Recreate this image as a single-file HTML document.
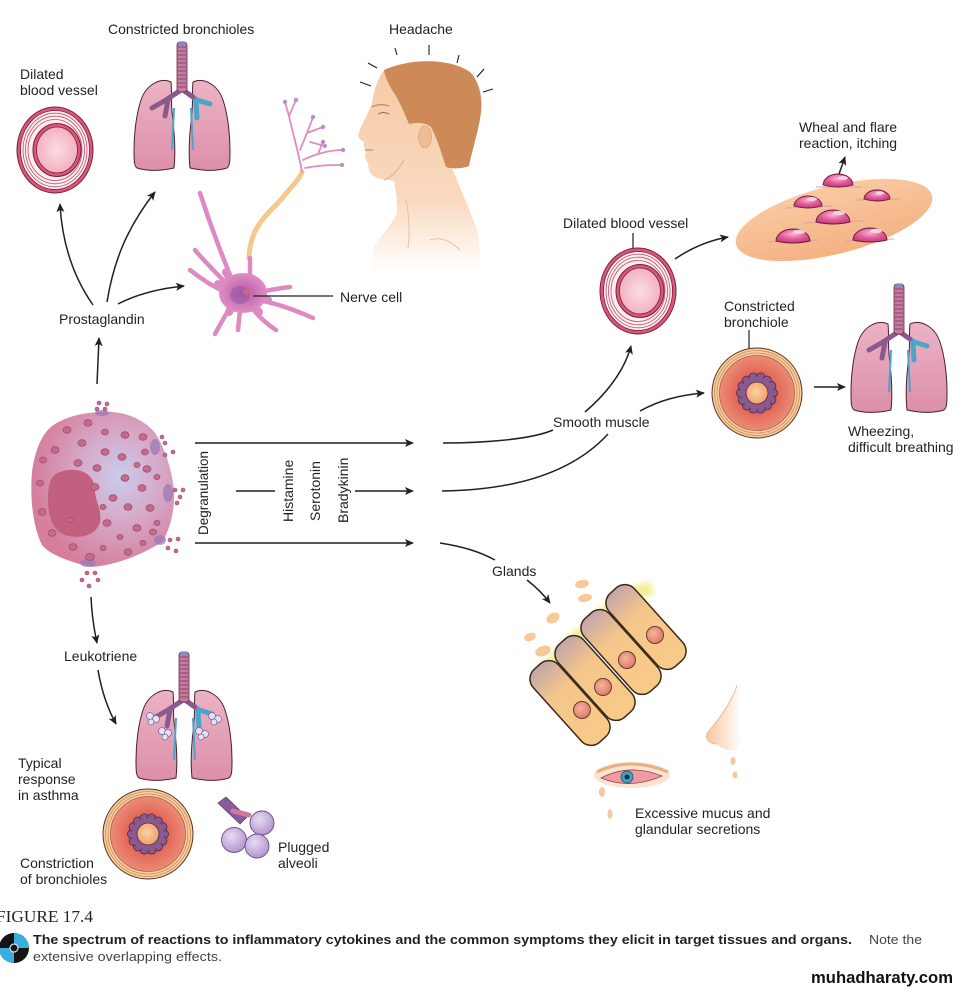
<!DOCTYPE html>
<html><head><meta charset="utf-8"><style>
html,body{margin:0;padding:0;background:#fff;}
svg{display:block;}
text{font-family:"Liberation Sans",Arial,sans-serif;fill:#231f20;font-size:14px;}
</style></head><body>
<svg width="960" height="992" viewBox="0 0 960 992" xmlns="http://www.w3.org/2000/svg" xmlns:xlink="http://www.w3.org/1999/xlink">
<defs>
<marker id="ah" viewBox="0 0 10 10" refX="9" refY="5" markerWidth="9" markerHeight="9" orient="auto" markerUnits="userSpaceOnUse"><path d="M0,0.5 L10,5 L0,9.5 L2.5,5 Z" fill="#231f20"/></marker>
<radialGradient id="lumen" cx="50%" cy="50%" r="50%"><stop offset="0" stop-color="#fbdde3"/><stop offset="1" stop-color="#f2b2c0"/></radialGradient>
<radialGradient id="redzone" cx="50%" cy="50%" r="50%"><stop offset="0.45" stop-color="#e2604e"/><stop offset="1" stop-color="#ea8c78"/></radialGradient>
<radialGradient id="lumenB" cx="45%" cy="45%" r="55%"><stop offset="0" stop-color="#fbd2a0"/><stop offset="1" stop-color="#f0a06e"/></radialGradient>
<linearGradient id="lungg" x1="0" y1="0" x2="0" y2="1"><stop offset="0" stop-color="#ecb3c5"/><stop offset="1" stop-color="#dc8fa8"/></linearGradient>
<radialGradient id="mast" cx="62%" cy="42%" r="60%"><stop offset="0" stop-color="#c9ccef"/><stop offset="0.45" stop-color="#d6abca"/><stop offset="1" stop-color="#d57f9d"/></radialGradient>
<radialGradient id="soma" cx="50%" cy="50%" r="50%"><stop offset="0" stop-color="#b35aa6"/><stop offset="1" stop-color="#e08dc4"/></radialGradient>
<linearGradient id="skin" x1="0" y1="0" x2="0" y2="1"><stop offset="0" stop-color="#f7c9a5"/><stop offset="0.65" stop-color="#f9d9bf"/><stop offset="1" stop-color="#ffffff"/></linearGradient>
<linearGradient id="patch" x1="0" y1="0" x2="0" y2="1"><stop offset="0" stop-color="#f9caa2"/><stop offset="1" stop-color="#f4b282"/></linearGradient>
<radialGradient id="wheal" cx="50%" cy="35%" r="60%"><stop offset="0" stop-color="#f6b5d3"/><stop offset="0.6" stop-color="#e35c9c"/><stop offset="1" stop-color="#c9417f"/></radialGradient>
<linearGradient id="cellg" x1="0" y1="0" x2="1" y2="0"><stop offset="0" stop-color="#c3a5aa"/><stop offset="0.35" stop-color="#f5c68b"/><stop offset="1" stop-color="#f8ca88"/></linearGradient>
<radialGradient id="nuc" cx="40%" cy="40%" r="60%"><stop offset="0" stop-color="#f6b39a"/><stop offset="1" stop-color="#dc7c72"/></radialGradient>
<radialGradient id="alv" cx="40%" cy="35%" r="65%"><stop offset="0" stop-color="#e6dcf2"/><stop offset="1" stop-color="#b597d0"/></radialGradient>
<linearGradient id="nose" x1="0" y1="0" x2="1" y2="0"><stop offset="0" stop-color="#f6c7a0"/><stop offset="1" stop-color="#ffffff"/></linearGradient>
<filter id="blur"><feGaussianBlur stdDeviation="3"/></filter>

<g id="vessel">
<ellipse rx="38" ry="43" fill="#d9577a" stroke="#7a2036" stroke-width="1"/>
<ellipse rx="34.5" ry="39.5" fill="#fbeef0" stroke="#7a2036" stroke-width="0.8"/>
<ellipse rx="32" ry="36.8" fill="none" stroke="#c2506e" stroke-width="0.8"/>
<ellipse rx="29.5" ry="33.8" fill="none" stroke="#c2506e" stroke-width="0.8"/>
<ellipse rx="27" ry="30.5" fill="none" stroke="#c2506e" stroke-width="0.8"/>
<ellipse cx="2" rx="24" ry="26.5" fill="#d9577a" stroke="#7a2036" stroke-width="1"/>
<ellipse cx="2" rx="20.5" ry="23" fill="url(#lumen)" stroke="#7a2036" stroke-width="0.8"/>
</g>

<g id="bronch">
<circle r="45" fill="#f7cf9f" stroke="#5a3020" stroke-width="1"/>
<circle r="42.5" fill="none" stroke="#c98a5a" stroke-width="0.8"/>
<circle r="40" fill="none" stroke="#c98a5a" stroke-width="0.8"/>
<circle r="37.5" fill="url(#redzone)" stroke="#b45a40" stroke-width="0.8"/>
<g fill="#8a5a8e" stroke="#4a2a4e" stroke-width="0.8">
<circle cx="16" cy="0" r="4.5"/><circle cx="14.42" cy="6.94" r="4.5"/><circle cx="9.98" cy="12.51" r="4.5"/><circle cx="3.56" cy="15.6" r="4.5"/><circle cx="-3.56" cy="15.6" r="4.5"/><circle cx="-9.98" cy="12.51" r="4.5"/><circle cx="-14.42" cy="6.94" r="4.5"/><circle cx="-16" cy="0" r="4.5"/><circle cx="-14.42" cy="-6.94" r="4.5"/><circle cx="-9.98" cy="-12.51" r="4.5"/><circle cx="-3.56" cy="-15.6" r="4.5"/><circle cx="3.56" cy="-15.6" r="4.5"/><circle cx="9.98" cy="-12.51" r="4.5"/><circle cx="14.42" cy="-6.94" r="4.5"/>
</g>
<circle r="16" fill="#8a5a8e"/>
<circle r="11" fill="url(#lumenB)" stroke="#4a2a4e" stroke-width="0.8"/>
</g>

<g id="lungs">
<path d="M171,82 C160,77 146,85 141,100 C136,115 134,135 134,150 C134,160 134,166 137,168 C150,172 165,170 174,168 C176,150 174,130 172,112 C171,100 172,90 171,82 Z" fill="url(#lungg)" stroke="#4a2030" stroke-width="1"/>
<path d="M193,82 C204,77 218,85 223,100 C228,115 230,135 230,150 C230,160 230,166 227,168 C214,172 199,170 190,168 C188,150 190,130 192,112 C193,100 192,90 193,82 Z" fill="url(#lungg)" stroke="#4a2030" stroke-width="1"/>
<path d="M174,108 L172,150 M191,108 L193,150" stroke="#4aa6c8" stroke-width="2" fill="none"/>
<path d="M181,90 L166,100 L152,108 M168,100 L165,116" stroke="#8b5a8c" stroke-width="5" fill="none" stroke-linecap="round"/>
<path d="M183,90 L197,100 L210,104 M196,101 L197,118" stroke="#4aa6c8" stroke-width="5" fill="none" stroke-linecap="round"/>
<path d="M183,90 L193,97" stroke="#8b5a8c" stroke-width="5" fill="none" stroke-linecap="round"/>
<rect x="177" y="42" width="10" height="50" rx="3" fill="#c97a9a" stroke="#5a2a40" stroke-width="0.8"/>
<path d="M178,47h8M178,51h8M178,55h8M178,59h8M178,63h8M178,67h8M178,71h8M178,75h8M178,79h8M178,83h8M178,87h8" stroke="#7a4a7e" stroke-width="1"/>
<rect x="178" y="42" width="8" height="4" rx="2" fill="#8a8ac0"/>
</g>
</defs>

<!-- ===== Top-left: vessel, lungs, nerve, head ===== -->
<use xlink:href="#vessel" transform="translate(55,150)"/>
<use xlink:href="#lungs"/>

<!-- head -->
<path d="M384,70 C378,78 374,90 372,103 C369,112 363,122 359,132 C357,137 360,140 364,142 C363,147 365,150 366,152 C364,156 366,160 368,163 C368,170 371,176 377,178 C384,180 390,180 394,181 C396,192 398,203 397,213 C392,225 380,236 373,248 L371,272 L482,272 L478,232 C470,210 460,188 452,168 C462,150 478,130 481,112 C483,95 478,80 470,72 C450,58 410,58 384,70 Z" fill="url(#skin)"/>
<path d="M384,70 C410,58 450,58 470,72 C478,80 483,95 481,112 C479,130 472,150 469,166 C461,169 452,169 446,167 C441,152 437,138 431,127 C423,121 415,123 409,124 C404,112 398,98 392,90 C389,84 385,78 384,70 Z" fill="#cd8a58"/>
<ellipse cx="425" cy="137" rx="6.5" ry="11" fill="#f0bc95" stroke="#d99a70" stroke-width="0.6"/>
<path d="M372,107 Q380,103 389,106" stroke="#c98a60" stroke-width="1.3" fill="none"/>
<path d="M378,114 Q383,111 389,114" stroke="#a06a50" stroke-width="1" fill="none"/>
<path d="M365,150 L373,150" stroke="#d08a70" stroke-width="1.2"/>
<path d="M384,180 Q396,175 404,160" stroke="#e8b08a" stroke-width="1" fill="none"/>
<path d="M406,200 Q411,225 408,248 M430,240 Q445,235 460,250" stroke="#eebf9c" stroke-width="1" fill="none"/>
<g stroke="#231f20" stroke-width="1.1">
<line x1="360" y1="82" x2="371" y2="86"/><line x1="368" y1="63" x2="377" y2="68"/><line x1="395" y1="48" x2="397" y2="55"/><line x1="429" y1="45" x2="429" y2="55"/><line x1="459" y1="55" x2="457" y2="63"/><line x1="484" y1="69" x2="477" y2="77"/><line x1="493" y1="89" x2="483" y2="92"/>
</g>

<!-- nerve cell -->
<g fill="none" stroke-linecap="round">
<path d="M249,258 C250,225 268,215 284,196 C294,184 300,178 302,172" stroke="#f6c88c" stroke-width="5"/>
<g stroke="#e08cc0" stroke-width="1.8">
<path d="M302,172 C298,150 292,130 289,116 L285,102 M289,116 L296,100"/>
<path d="M300,150 C305,138 310,126 313,117 M307,133 L323,127"/>
<path d="M303,160 C315,154 330,150 343,150 M318,154 L323,142"/>
<path d="M305,168 C320,165 330,165 342,165 M310,142 L325,146"/>
</g>
<g stroke="#de8ac2" stroke-width="4.5">
<path d="M232,280 C222,255 212,230 200,193"/>
<path d="M228,285 C215,272 205,262 195,250"/>
<path d="M225,292 C212,286 200,278 190,270"/>
<path d="M232,305 C225,315 220,325 215,334"/>
<path d="M240,310 L238,330"/>
<path d="M252,308 C260,318 268,325 276,330"/>
<path d="M258,300 C275,303 295,310 313,318"/>
<path d="M260,292 C270,290 280,288 290,287"/>
<path d="M250,275 L250,258"/>
</g>
<g stroke="#de8ac2" stroke-width="8">
<path d="M232,283 L226,272 M227,290 L218,284 M233,304 L229,312 M254,306 L259,312 M258,298 L268,300"/>
</g>
</g>
<g fill="#b492c8"><circle cx="285" cy="102" r="2.2"/><circle cx="296" cy="100" r="2.2"/><circle cx="313" cy="117" r="2.2"/><circle cx="323" cy="127" r="2.2"/><circle cx="343" cy="150" r="2.2"/><circle cx="342" cy="165" r="2.2"/><circle cx="323" cy="142" r="2.2"/><circle cx="325" cy="146" r="2"/></g>
<ellipse cx="243" cy="293" rx="24" ry="20" fill="url(#soma)"/>
<ellipse cx="240" cy="295" rx="10" ry="9" fill="#9a5aa6" opacity="0.6"/>
<circle cx="246" cy="292" r="3" fill="#e86a70" opacity="0.7"/>

<!-- ===== Mast cell ===== -->
<path d="M100,412 C125,410 145,420 155,433 C165,448 172,470 174,490 C175,510 170,530 162,542 C140,556 115,565 92,567 C70,562 50,555 42,545 C32,525 30,495 32,472 C35,450 42,432 55,424 C70,415 85,413 100,412 Z" fill="url(#mast)"/>
<path d="M60,472 C80,465 95,475 95,490 C95,500 102,510 100,522 C97,535 80,540 65,535 C52,530 48,515 48,500 C48,485 50,475 60,472 Z" fill="#c4607f"/>
<g fill="#9a7ab8" opacity="0.75"><ellipse cx="155" cy="447" rx="5" ry="8"/><ellipse cx="168" cy="493" rx="5" ry="9"/><ellipse cx="160" cy="540" rx="6" ry="5"/><ellipse cx="88" cy="563" rx="8" ry="4"/><ellipse cx="102" cy="413" rx="7" ry="3"/></g>
<g fill="#c46a8c" stroke="#a34d72" stroke-width="0.8">
<ellipse cx="88" cy="423" rx="4" ry="3.3"/><ellipse cx="67" cy="430" rx="4" ry="3.3"/><ellipse cx="105" cy="432" rx="3.5" ry="3"/><ellipse cx="125" cy="435" rx="4" ry="3.3"/><ellipse cx="143" cy="437" rx="4" ry="3.3"/><ellipse cx="55" cy="450" rx="4" ry="3.3"/><ellipse cx="82" cy="443" rx="4" ry="3.3"/><ellipse cx="105" cy="452" rx="4" ry="3.3"/><ellipse cx="122" cy="457" rx="4" ry="3.3"/><ellipse cx="145" cy="452" rx="3.5" ry="3"/><ellipse cx="43" cy="460" rx="3.5" ry="3"/><ellipse cx="78" cy="463" rx="4" ry="3.3"/><ellipse cx="97" cy="468" rx="4" ry="3.3"/><ellipse cx="125" cy="478" rx="4" ry="3.3"/><ellipse cx="147" cy="469" rx="4" ry="3.3"/><ellipse cx="157" cy="477" rx="3" ry="2.6"/><ellipse cx="40" cy="483" rx="3.5" ry="3"/><ellipse cx="95" cy="487" rx="4" ry="3.3"/><ellipse cx="113" cy="498" rx="4" ry="3.3"/><ellipse cx="142" cy="488" rx="4" ry="3.3"/><ellipse cx="128" cy="507" rx="4" ry="3.3"/><ellipse cx="150" cy="508" rx="4" ry="3.3"/><ellipse cx="107" cy="523" rx="4" ry="3.3"/><ellipse cx="137" cy="528" rx="4" ry="3.3"/><ellipse cx="153" cy="532" rx="3.5" ry="3"/><ellipse cx="52" cy="533" rx="4" ry="3.3"/><ellipse cx="73" cy="547" rx="4" ry="3.3"/><ellipse cx="90" cy="557" rx="4.5" ry="3.5"/><ellipse cx="103" cy="548" rx="3" ry="2.6"/><ellipse cx="120" cy="537" rx="3" ry="2.6"/><ellipse cx="128" cy="552" rx="4" ry="3.3"/><ellipse cx="143" cy="543" rx="3" ry="2.6"/><ellipse cx="157" cy="523" rx="3" ry="2.6"/><ellipse cx="42" cy="512" rx="4" ry="3.3"/><ellipse cx="70" cy="520" rx="3" ry="2.6"/><ellipse cx="103" cy="507" rx="3" ry="2.6"/><ellipse cx="137" cy="465" rx="3" ry="2.6"/>
</g>
<g fill="#c46a8c" stroke="#a34d72" stroke-width="0.6">
<circle cx="99" cy="403" r="2"/><circle cx="107" cy="404" r="2"/><circle cx="97" cy="409" r="2"/><circle cx="105" cy="409" r="2"/>
<circle cx="162" cy="437" r="2"/><circle cx="165" cy="443" r="2"/><circle cx="173" cy="452" r="2"/><circle cx="165" cy="455" r="2"/>
<circle cx="175" cy="490" r="2"/><circle cx="183" cy="490" r="2"/><circle cx="180" cy="497" r="2"/><circle cx="177" cy="503" r="2"/>
<circle cx="170" cy="540" r="2"/><circle cx="178" cy="539" r="2"/><circle cx="168" cy="548" r="2"/><circle cx="176" cy="551" r="2"/>
<circle cx="87" cy="573" r="2"/><circle cx="95" cy="573" r="2"/><circle cx="82" cy="580" r="2"/><circle cx="98" cy="580" r="2"/><circle cx="89" cy="586" r="2"/>
</g>

<!-- ===== Arrows / connectors ===== -->
<g fill="none" stroke="#231f20" stroke-width="1.5">
<path d="M97,384 L99,338" marker-end="url(#ah)"/>
<path d="M93,305 Q63,262 60,204" marker-end="url(#ah)"/>
<path d="M107,302 C113,265 125,230 155,192" marker-end="url(#ah)"/>
<path d="M118,304 Q145,290 184,286" marker-end="url(#ah)"/>
<path d="M253,296 L333,296" stroke-width="1.2"/>
<path d="M195,443 L413,443" marker-end="url(#ah)"/>
<path d="M236,491 L275,491"/>
<path d="M355,491 L413,491" marker-end="url(#ah)"/>
<path d="M195,543 L413,543" marker-end="url(#ah)"/>
<path d="M443,443 C480,443 530,440 553,430"/>
<path d="M585,412 C605,395 624,372 631,346" marker-end="url(#ah)"/>
<path d="M442,491 C520,490 575,470 608,434"/>
<path d="M640,411 C660,400 680,395 704,393" marker-end="url(#ah)"/>
<path d="M440,543 C465,547 480,552 495,560"/>
<path d="M527,580 Q540,590 550,603" marker-end="url(#ah)"/>
<path d="M675,259 Q700,242 728,237" marker-end="url(#ah)"/>
<path d="M814,387 L845,387" marker-end="url(#ah)"/>
<path d="M839,174 L845,157" marker-end="url(#ah)"/>
<path d="M633,233 L633,262" stroke-width="1.2"/>
<path d="M749,330 L749,367" stroke-width="1.2"/>
<path d="M91,597 Q92,620 97,643" marker-end="url(#ah)"/>
<path d="M98,670 Q103,700 116,724" marker-end="url(#ah)"/>
</g>

<!-- ===== Right side ===== -->
<use xlink:href="#vessel" transform="translate(638,291)"/>
<ellipse cx="834" cy="220" rx="101" ry="34" transform="rotate(-14 834 220)" fill="url(#patch)"/>
<g stroke="#d8a0b8" stroke-width="1.2" opacity="0.8">
<path d="M816,187 L862,187 M786,208 L832,206 M856,200 L900,199 M803,223 L864,221 M768,242 L820,240 M846,241 L894,239"/>
</g>
<g fill="url(#wheal)" stroke="#6a1a3a" stroke-width="0.9">
<path d="M823,185 A15,11 0 0 1 853,185 Q838,189 823,185 Z"/>
<path d="M794,206 A14,10 0 0 1 822,206 Q808,210 794,206 Z"/>
<path d="M864,199 A13,9 0 0 1 890,199 Q877,203 864,199 Z"/>
<path d="M816,222 A17,12 0 0 1 850,222 Q833,226 816,222 Z"/>
<path d="M776,241 A17,12 0 0 1 810,241 Q793,245 776,241 Z"/>
<path d="M853,240 A17,12 0 0 1 887,240 Q870,244 853,240 Z"/>
</g>
<g fill="#fbe0ec" opacity="0.85">
<ellipse cx="843" cy="178" rx="5" ry="2"/><ellipse cx="812" cy="199" rx="5" ry="2"/><ellipse cx="880" cy="193" rx="4" ry="1.8"/><ellipse cx="839" cy="213" rx="6" ry="2.2"/><ellipse cx="799" cy="232" rx="6" ry="2.2"/><ellipse cx="876" cy="231" rx="6" ry="2.2"/>
</g>
<use xlink:href="#bronch" transform="translate(757,393)"/>
<use xlink:href="#lungs" transform="translate(717,242)"/>

<!-- glands -->
<path d="M540,675 L575,640 L600,618 L625,596 L652,588" stroke="#f4ee96" stroke-width="14" fill="none" filter="url(#blur)"/>
<g fill="#f6c48e" opacity="0.9">
<ellipse cx="582" cy="584" rx="7" ry="4" transform="rotate(-10 582 584)"/>
<ellipse cx="585" cy="598" rx="7" ry="4" transform="rotate(-10 585 598)"/>
<ellipse cx="553" cy="618" rx="7" ry="5" transform="rotate(-30 553 618)"/>
<ellipse cx="530" cy="637" rx="6" ry="4" transform="rotate(-20 530 637)"/>
<ellipse cx="543" cy="651" rx="8" ry="5" transform="rotate(-20 543 651)"/>
</g>
<g stroke="#3b2a1c" stroke-width="1.5" fill="url(#cellg)">
<rect x="-49" y="-17" width="98" height="34" rx="13" transform="translate(646,627) rotate(48)"/>
<rect x="-49" y="-17" width="98" height="34" rx="13" transform="translate(621,652) rotate(48)"/>
<rect x="-49" y="-17" width="98" height="34" rx="13" transform="translate(595,678) rotate(48)"/>
<rect x="-49" y="-17" width="98" height="34" rx="13" transform="translate(570,703) rotate(48)"/>
</g>
<g fill="url(#nuc)" stroke="#6a3a30" stroke-width="1">
<circle cx="582" cy="710" r="8.5"/><circle cx="603" cy="687" r="8.5"/><circle cx="627" cy="660" r="8.5"/><circle cx="655" cy="635" r="8.5"/>
</g>
<!-- nose -->
<path d="M737,685 C733,700 720,718 708,732 C704,738 709,744 717,744 C721,748 729,752 738,750 L741,740 C743,720 741,700 737,685 Z" fill="url(#nose)"/>
<path d="M737,685 C733,700 720,718 708,732 C704,738 709,744 717,744" stroke="#efb88c" stroke-width="1" fill="none"/>
<ellipse cx="733" cy="761" rx="2.5" ry="4" fill="#f2c9a2"/><ellipse cx="735" cy="775" rx="2.5" ry="3.5" fill="#f2c9a2"/>
<!-- eye -->
<ellipse cx="632" cy="775" rx="38" ry="13" fill="#fbe3cf"/>
<path d="M597,772 Q630,756 668,772" stroke="#e7ae80" stroke-width="3" fill="none"/>
<path d="M601,778 Q630,763 662,776 Q630,790 601,778 Z" fill="#ef9aa4" stroke="#8a4a40" stroke-width="0.8"/>
<circle cx="627" cy="777" r="6" fill="#3aa3c4" stroke="#1a4a6a" stroke-width="0.7"/>
<circle cx="627" cy="777" r="2.5" fill="#1a2a3a"/>
<ellipse cx="602" cy="792" rx="3" ry="5" fill="#f2c9a2"/>
<ellipse cx="610" cy="814" rx="2.5" ry="5" fill="#f2c9a2"/>

<!-- ===== Bottom-left ===== -->
<use xlink:href="#lungs" transform="translate(2,610)"/>
<g fill="#e8e0f2" stroke="#7a6a9a" stroke-width="0.8">
<circle cx="150" cy="716" r="3.5"/><circle cx="156" cy="719" r="3.5"/><circle cx="151" cy="722" r="3"/>
<circle cx="162" cy="731" r="3.5"/><circle cx="168" cy="733" r="3.5"/><circle cx="165" cy="737" r="3"/>
<circle cx="212" cy="716" r="3.5"/><circle cx="218" cy="719" r="3.5"/><circle cx="214" cy="722" r="3"/>
<circle cx="199" cy="731" r="3.5"/><circle cx="205" cy="734" r="3.5"/><circle cx="201" cy="737" r="3"/>
</g>
<use xlink:href="#bronch" transform="translate(148,834)"/>
<path d="M218,803 L226,797 L247,817 L240,824 Z" fill="#8a5a9a" stroke="#5a3a6a" stroke-width="0.7"/>
<path d="M233,811 L249,815" stroke="#d07a9a" stroke-width="5" stroke-linecap="round"/>
<g fill="url(#alv)" stroke="#6a4a8a" stroke-width="0.9">
<circle cx="262" cy="823" r="12"/><circle cx="234" cy="840" r="12.5"/><circle cx="257" cy="846" r="12"/>
</g>

<!-- ===== Labels ===== -->
<text x="108" y="34">Constricted bronchioles</text>
<text x="389" y="34">Headache</text>
<text x="20" y="79">Dilated</text>
<text x="20" y="95">blood vessel</text>
<text x="59" y="324">Prostaglandin</text>
<text x="340" y="302">Nerve cell</text>
<text x="799" y="132">Wheal and flare</text>
<text x="799" y="148">reaction, itching</text>
<text x="563" y="228">Dilated blood vessel</text>
<text x="724" y="311">Constricted</text>
<text x="724" y="327">bronchiole</text>
<text x="553" y="427">Smooth muscle</text>
<text x="848" y="436">Wheezing,</text>
<text x="848" y="452">difficult breathing</text>
<text transform="translate(208,535) rotate(-90)" textLength="84" lengthAdjust="spacingAndGlyphs">Degranulation</text>
<text transform="translate(293,522) rotate(-90)">Histamine</text>
<text transform="translate(320,521) rotate(-90)">Serotonin</text>
<text transform="translate(348,523) rotate(-90)">Bradykinin</text>
<text x="492" y="576">Glands</text>
<text x="64" y="661">Leukotriene</text>
<text x="18" y="768">Typical</text>
<text x="18" y="784">response</text>
<text x="18" y="800">in asthma</text>
<text x="20" y="868">Constriction</text>
<text x="20" y="884">of bronchioles</text>
<text x="278" y="852">Plugged</text>
<text x="278" y="868">alveoli</text>
<text x="635" y="818">Excessive mucus and</text>
<text x="635" y="834">glandular secretions</text>

<!-- ===== Caption ===== -->
<text x="-4" y="922" style="font-family:'Liberation Serif',serif;font-size:17px" textLength="97" lengthAdjust="spacingAndGlyphs">FIGURE 17.4</text>
<circle cx="14" cy="948" r="15" fill="#141414"/>
<path d="M14,948 L14,933 A15,15 0 0 1 29,948 Z" fill="#39aee0"/>
<path d="M14,948 L-1,948 A15,15 0 0 0 14,963 Z" fill="#39aee0"/>
<circle cx="14" cy="948" r="4" fill="#141414" stroke="#ddd" stroke-width="1.2"/>
<text x="33" y="944" style="font-size:13px;font-weight:bold" textLength="819" lengthAdjust="spacingAndGlyphs">The spectrum of reactions to inflammatory cytokines and the common symptoms they elicit in target tissues and organs.</text>
<text x="869" y="944" style="font-size:13px;fill:#444" textLength="53" lengthAdjust="spacingAndGlyphs">Note the</text>
<text x="33" y="961" style="font-size:13px;fill:#444" textLength="189" lengthAdjust="spacingAndGlyphs">extensive overlapping effects.</text>
<text x="811" y="983" style="font-size:17px;font-weight:bold;fill:#111" textLength="142" lengthAdjust="spacingAndGlyphs">muhadharaty.com</text>
</svg>
</body></html>
